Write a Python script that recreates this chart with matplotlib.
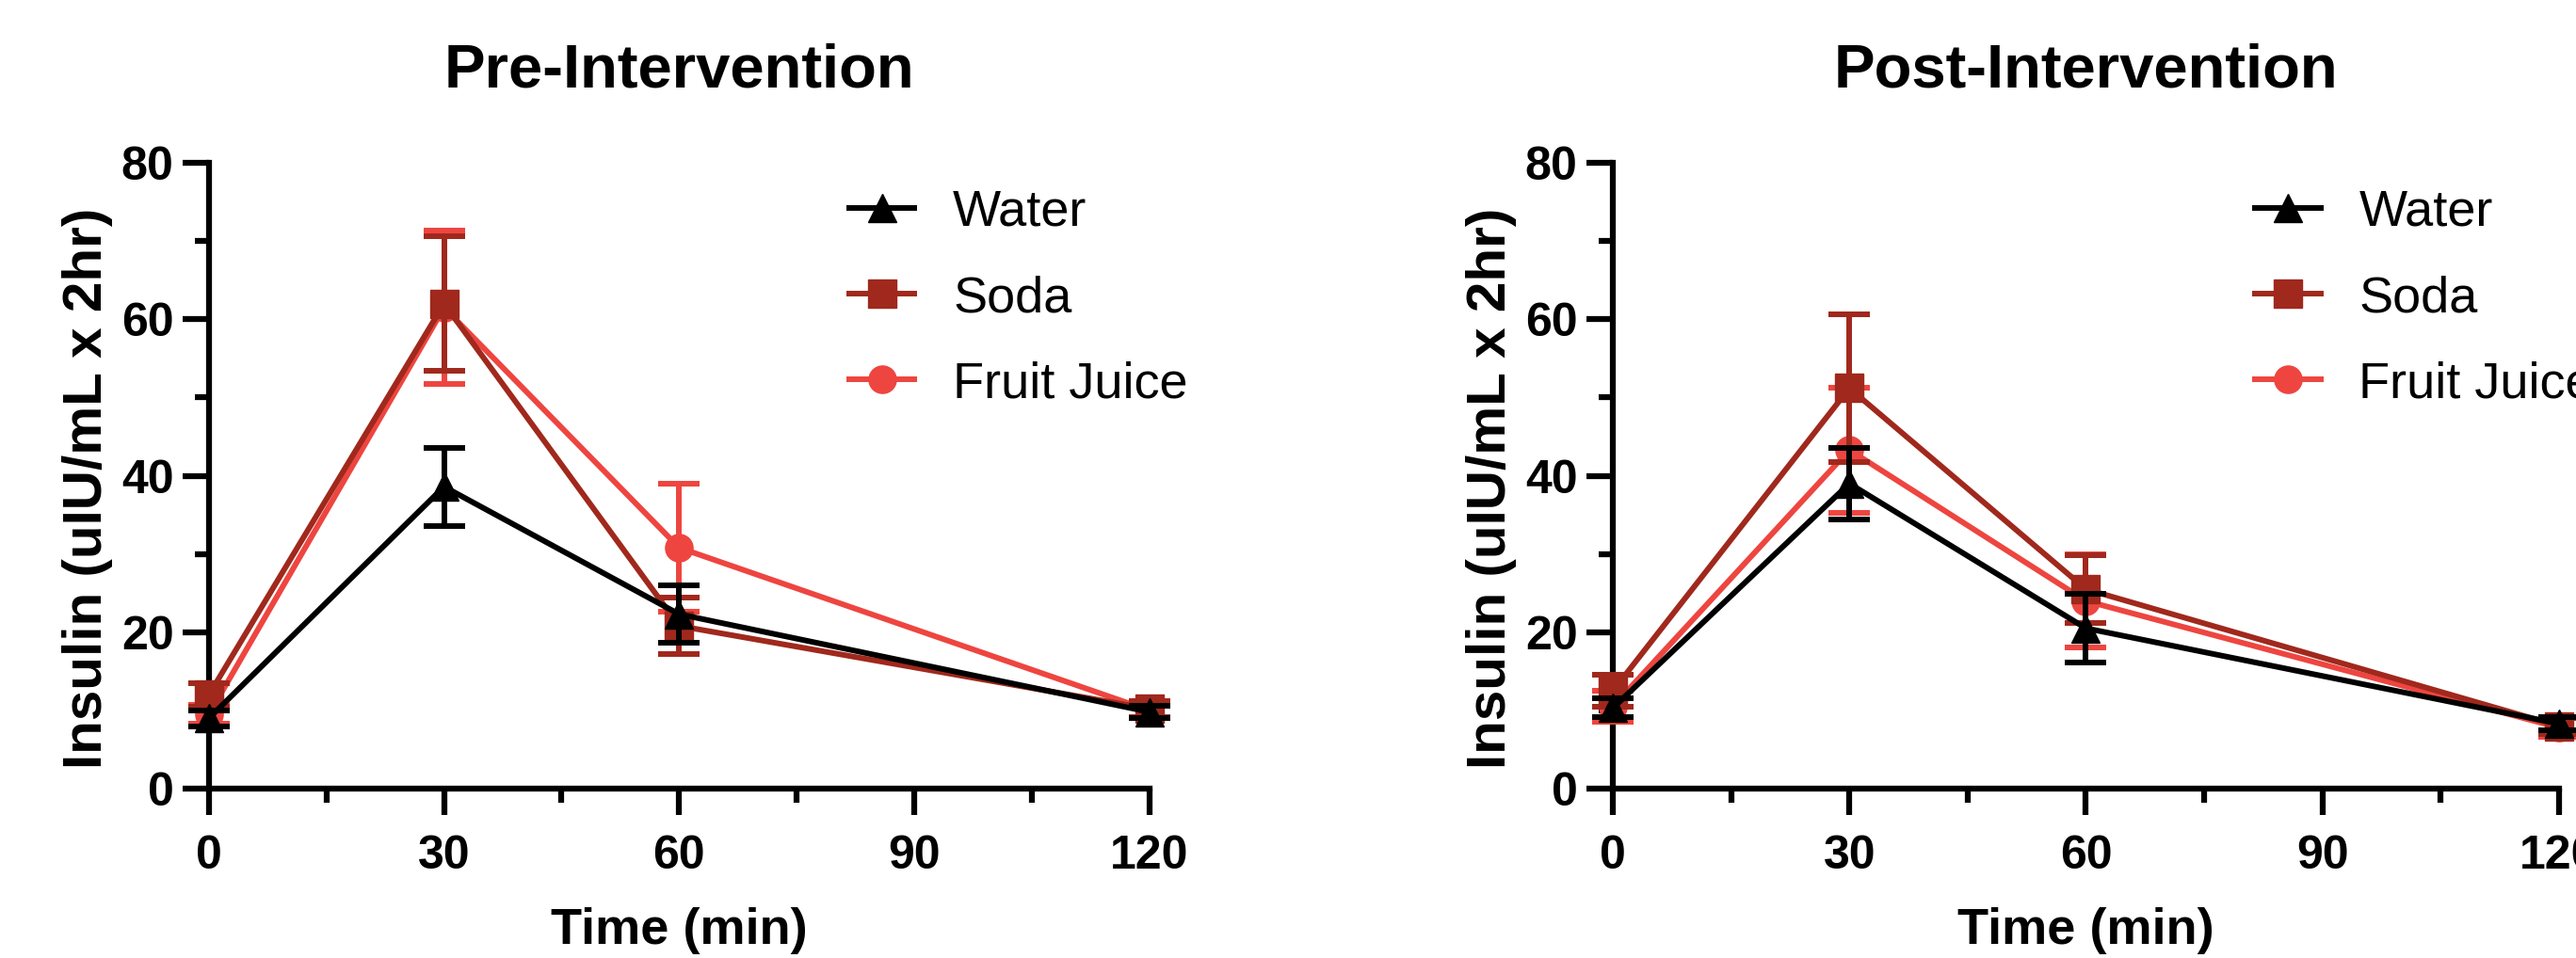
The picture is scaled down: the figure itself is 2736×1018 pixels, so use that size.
import matplotlib
matplotlib.use("Agg")
import matplotlib.pyplot as plt
from matplotlib.ticker import MultipleLocator

plt.rcParams["font.family"] = ["Liberation Sans", "DejaVu Sans"]

# sampling times (min)
time_min = [0, 30, 60, 120]
series_names = ["Water", "Soda", "Fruit Juice"]

# pre-intervention means and error bars
pre_water = [9.0, 38.6, 22.3, 9.8]
pre_water_err = [1.0, 5.0, 3.7, 0.8]
pre_soda = [12.0, 62.0, 20.8, 10.2]
pre_soda_err = [1.5, 8.6, 3.6, 1.0]
pre_juice = [9.5, 61.5, 30.8, 10.0]
pre_juice_err = [1.2, 9.8, 8.2, 1.0]

# post-intervention means and error bars
post_water = [10.3, 39.0, 20.5, 8.3]
post_water_err = [1.2, 4.6, 4.4, 0.8]
post_soda = [12.5, 51.2, 25.5, 8.0]
post_soda_err = [2.0, 9.4, 4.3, 1.0]
post_juice = [10.5, 43.3, 24.0, 7.8]
post_juice_err = [2.0, 8.0, 6.0, 1.2]

colors = {"Water": "#000000", "Soda": "#A0281C", "Fruit Juice": "#EE4540"}
markers = {"Water": "^", "Soda": "s", "Fruit Juice": "o"}
zorders = {"Water": 5, "Soda": 4, "Fruit Juice": 3}


def draw_panel(ax, title, values, errors, legend_x):
    lines = {}
    # draw juice first, water last so water sits on top
    for name in ["Fruit Juice", "Soda", "Water"]:
        cont = ax.errorbar(time_min, values[name], yerr=errors[name], color=colors[name],
                           marker=markers[name], markersize=21, linewidth=4.3, elinewidth=4.3,
                           capsize=16, capthick=4.3, zorder=zorders[name])
        cont[0].set_clip_on(False)
        for art in list(cont[1]) + list(cont[2]):
            art.set_clip_on(False)
        lines[name] = cont[0]

    ax.set_xlim(0, 120)
    ax.set_ylim(0, 80)
    ax.xaxis.set_major_locator(MultipleLocator(30))
    ax.xaxis.set_minor_locator(MultipleLocator(15))
    ax.yaxis.set_major_locator(MultipleLocator(20))
    ax.yaxis.set_minor_locator(MultipleLocator(10))
    ax.tick_params(which="major", length=20, width=4.5, direction="out", labelsize=36)
    ax.tick_params(which="minor", length=11, width=4.5, direction="out")
    ax.tick_params(axis="x", which="major", pad=15)
    ax.tick_params(axis="y", which="major", pad=7)
    for lab in ax.get_xticklabels() + ax.get_yticklabels():
        lab.set_fontweight("bold")

    for side in ["top", "right"]:
        ax.spines[side].set_visible(False)
    for side in ["left", "bottom"]:
        ax.spines[side].set_linewidth(4.5)

    ax.set_title(title, fontsize=47, fontweight="bold", pad=58)
    ax.set_xlabel("Time (min)", fontsize=39, fontweight="bold")
    ax.set_ylabel("Insulin (uIU/mL x 2hr)", fontsize=42, fontweight="bold")
    ax.xaxis.set_label_coords(0.5, -0.19)
    ax.yaxis.set_label_coords(-0.102, 0.48)

    ax.legend([lines[n] for n in series_names], series_names, loc="upper left",
              bbox_to_anchor=(legend_x, 0.958), frameon=False, fontsize=39,
              handlelength=1.28, handletextpad=0.75, labelspacing=0.76,
              borderpad=0, borderaxespad=0, numpoints=1)


fig = plt.figure(figsize=(27.36, 10.18), dpi=100)
ax_pre = fig.add_axes([0.0811, 0.1768, 0.3651, 0.6532])
ax_post = fig.add_axes([0.6261, 0.1768, 0.3673, 0.6532])

draw_panel(ax_pre, "Pre-Intervention",
           {"Water": pre_water, "Soda": pre_soda, "Fruit Juice": pre_juice},
           {"Water": pre_water_err, "Soda": pre_soda_err, "Fruit Juice": pre_juice_err}, 0.681)
draw_panel(ax_post, "Post-Intervention",
           {"Water": post_water, "Soda": post_soda, "Fruit Juice": post_juice},
           {"Water": post_water_err, "Soda": post_soda_err, "Fruit Juice": post_juice_err}, 0.679)

fig.savefig("out.png", dpi=100, facecolor="white")
